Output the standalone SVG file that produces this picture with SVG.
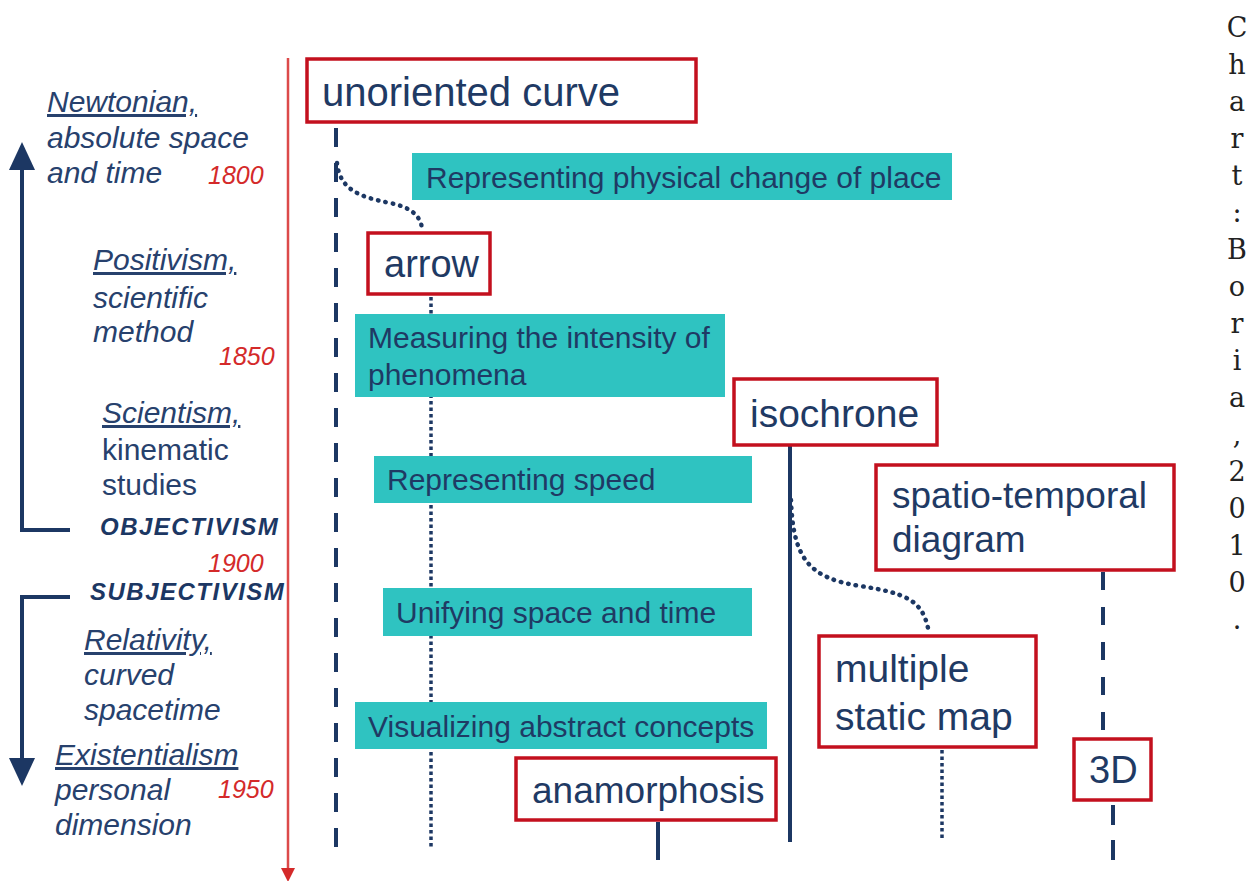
<svg xmlns="http://www.w3.org/2000/svg" width="1258" height="881" viewBox="0 0 1258 881">
<defs>
<style>
.bg{fill:#ffffff}
.node rect{fill:#ffffff;stroke:#c3101e;stroke-width:3.5}
.node text{font-family:"Liberation Sans",Arial,sans-serif;font-size:38px;fill:#1f3a64}
.band rect{fill:#2fc3c1}
.band text{font-family:"Liberation Sans",Arial,sans-serif;font-size:30px;fill:#1f3a64}
.era text{font-family:"Liberation Sans",Arial,sans-serif;font-size:30px;fill:#27416d;font-style:italic}
.era .up{font-style:normal}
.era .ul{text-decoration:underline}
.era .ism{font-weight:bold;font-size:24px;letter-spacing:1.5px;fill:#1c3763}
.year{font-family:"Liberation Sans",Arial,sans-serif;font-size:25px;font-style:italic;fill:#d42a2a}
.credit{font-family:"DejaVu Serif",serif;font-size:27px;fill:#222222}
.navy{fill:none;stroke:#1c3763;stroke-width:4}
.dash{fill:none;stroke:#1c3763;stroke-width:4;stroke-dasharray:19 16}
.dot{fill:none;stroke:#1c3763;stroke-width:3.5;stroke-dasharray:3.5 3}
.curve{fill:none;stroke:#1c3763;stroke-width:4.5;stroke-linecap:round;stroke-dasharray:0.5 7}
.solid{fill:none;stroke:#1c3763;stroke-width:4}
.timeline{fill:none;stroke:#dc4a4a;stroke-width:2.5}
</style>
<marker id="navyHead" markerUnits="userSpaceOnUse" markerWidth="28" markerHeight="26" refX="0" refY="13" orient="auto" viewBox="0 0 28 26">
<path d="M0,0 L28,13 L0,26 z" fill="#1c3763"/>
</marker>
<marker id="redHead" markerUnits="userSpaceOnUse" markerWidth="14" markerHeight="14" refX="0" refY="7" orient="auto" viewBox="0 0 14 14">
<path d="M0,0 L14,7 L0,14 z" fill="#d42a2a"/>
</marker>
</defs>
<rect class="bg" x="0" y="0" width="1258" height="881"/>

<g id="connectors">
<path class="timeline" d="M288,58 V868" marker-end="url(#redHead)"/>
<path class="navy" d="M70,530 H22 V170" marker-end="url(#navyHead)"/>
<path class="navy" d="M70,597 H22 V758" marker-end="url(#navyHead)"/>
<path class="dash" d="M336,128 V848"/>
<path class="curve" d="M337,163 C340,190 360,197 390,203 C410,207 420,215 422,228"/>
<path class="dot" d="M431,297 V848"/>
<path class="solid" d="M790,446 V842"/>
<path class="curve" d="M791,500 C793,560 810,578 860,586 C905,593 922,600 928,628"/>
<path class="dash" d="M1103,572 V730" style="stroke-dasharray:18 17"/>
<path class="dash" d="M1113,805 V860" style="stroke-dasharray:20 15"/>
<path class="dot" d="M942,750 V840"/>
<path class="solid" d="M658,822 V860"/>
</g>

<g id="band-physical" class="band"><rect x="412" y="153" width="540" height="47"/><text x="426" y="188">Representing physical change of place</text></g>
<g id="band-intensity" class="band"><rect x="355" y="314" width="370" height="83"/><text x="368" y="348">Measuring the intensity of</text><text x="368" y="385">phenomena</text></g>
<g id="band-speed" class="band"><rect x="374" y="456" width="378" height="47"/><text x="387" y="490">Representing speed</text></g>
<g id="band-unifying" class="band"><rect x="383" y="588" width="369" height="48"/><text x="396" y="623">Unifying space and time</text></g>
<g id="band-abstract" class="band"><rect x="355" y="702" width="412" height="47"/><text x="368" y="737">Visualizing abstract concepts</text></g>

<g id="node-unoriented" class="node"><rect x="307" y="59" width="389" height="63"/><text x="322" y="106" style="font-size:40px">unoriented curve</text></g>
<g id="node-arrow" class="node"><rect x="368" y="233" width="122" height="61"/><text x="384" y="277">arrow</text></g>
<g id="node-isochrone" class="node"><rect x="734" y="379" width="203" height="66"/><text x="750" y="427" style="font-size:39px">isochrone</text></g>
<g id="node-spatio" class="node"><rect x="876" y="465" width="298" height="105"/><text x="892" y="508" style="font-size:37px">spatio-temporal</text><text x="892" y="552" style="font-size:37px">diagram</text></g>
<g id="node-multiple" class="node"><rect x="819" y="636" width="217" height="111"/><text x="835" y="682" style="font-size:39px">multiple</text><text x="835" y="730" style="font-size:39px">static map</text></g>
<g id="node-anamorphosis" class="node"><rect x="516" y="758" width="260" height="62"/><text x="532" y="803" style="font-size:37px">anamorphosis</text></g>
<g id="node-3d" class="node"><rect x="1074" y="739" width="77" height="61"/><text x="1089" y="783">3D</text></g>

<g id="era-newtonian" class="era">
<text x="47" y="112" class="ul">Newtonian,</text>
<text x="47" y="148">absolute space</text>
<text x="47" y="183">and time</text>
</g>
<g id="era-positivism" class="era">
<text x="93" y="270" class="ul">Positivism,</text>
<text x="93" y="308">scientific</text>
<text x="93" y="342">method</text>
</g>
<g id="era-scientism" class="era">
<text x="102" y="423" class="ul">Scientism,</text>
<text x="102" y="460" class="up">kinematic</text>
<text x="102" y="495" class="up">studies</text>
</g>
<g id="era-objectivism" class="era"><text x="100" y="535" class="ism">OBJECTIVISM</text></g>
<g id="era-subjectivism" class="era"><text x="90" y="600" class="ism">SUBJECTIVISM</text></g>
<g id="era-relativity" class="era">
<text x="84" y="650" class="ul">Relativity,</text>
<text x="84" y="685">curved</text>
<text x="84" y="720">spacetime</text>
</g>
<g id="era-existentialism" class="era">
<text x="55" y="765" class="ul">Existentialism</text>
<text x="55" y="800">personal</text>
<text x="55" y="835">dimension</text>
</g>

<g id="years">
<text class="year" x="208" y="184">1800</text>
<text class="year" x="219" y="365">1850</text>
<text class="year" x="208" y="572">1900</text>
<text class="year" x="218" y="798">1950</text>
</g>

<g id="credit">
<text class="credit" text-anchor="middle" x="1237" y="37"><tspan x="1237">C</tspan><tspan x="1237" dy="37">h</tspan><tspan x="1237" dy="37">a</tspan><tspan x="1237" dy="37">r</tspan><tspan x="1237" dy="37">t</tspan><tspan x="1237" dy="37">:</tspan><tspan x="1237" dy="37">B</tspan><tspan x="1237" dy="37">o</tspan><tspan x="1237" dy="37">r</tspan><tspan x="1237" dy="37">i</tspan><tspan x="1237" dy="37">a</tspan><tspan x="1237" dy="37">,</tspan><tspan x="1237" dy="37">2</tspan><tspan x="1237" dy="37">0</tspan><tspan x="1237" dy="37">1</tspan><tspan x="1237" dy="37">0</tspan><tspan x="1237" dy="37">.</tspan></text>
</g>
</svg>
